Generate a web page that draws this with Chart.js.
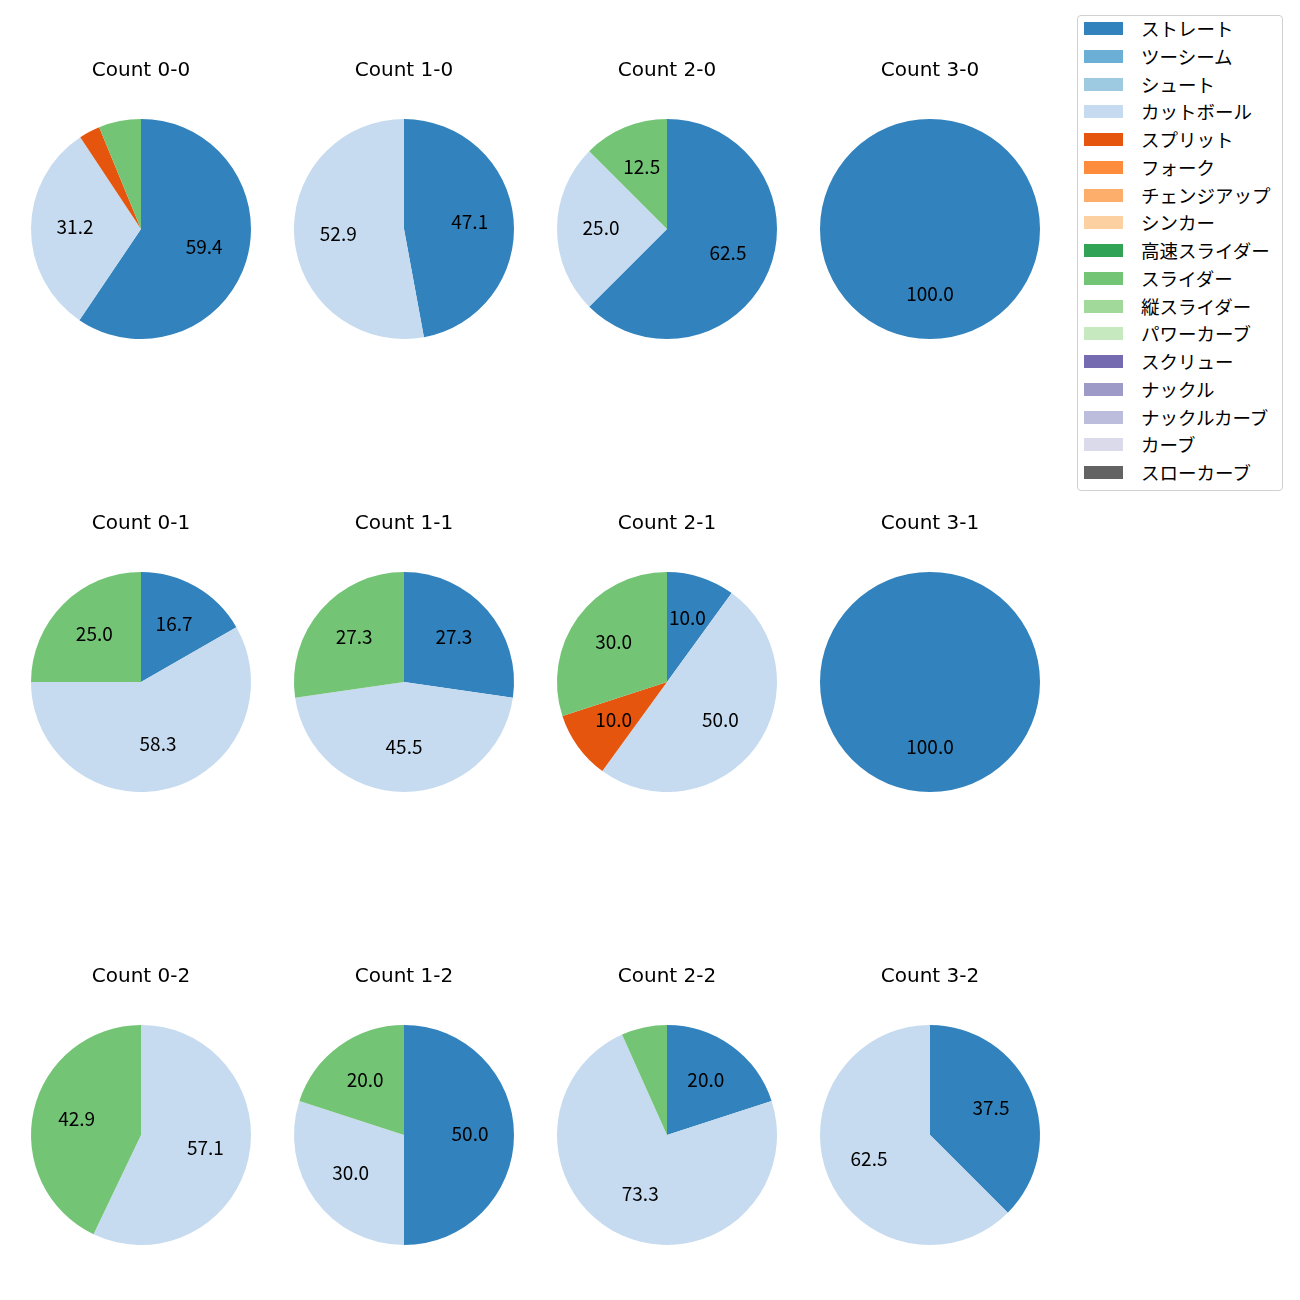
<!DOCTYPE html>
<html>
<head>
<meta charset="utf-8">
<script src="https://cdn.jsdelivr.net/npm/chart.js@4.4.0/dist/chart.umd.min.js"></script>
<style>
  body { margin: 0; background: #fff; font-family: "Noto Sans CJK JP", sans-serif; }
  #wrap { position: relative; width: 1300px; height: 1300px; }
  .pie { position: absolute; }
  #legend {
    position: absolute; left: 1077px; top: 15px; width: 204px; height: 474px;
    border: 1px solid #d0d0d0; border-radius: 4px; background: #fff;
  }
  .item { position: absolute; left: 6px; height: 20px; font-size: 18.5px; color: #000; }
  .item span.sw { position: absolute; left: 0; top: 4px; width: 39px; height: 13px; }
  .item span.tx { position: absolute; left: 57px; top: 0; white-space: nowrap; line-height: 20px; }
</style>
</head>
<body>
<div id="wrap">
  <div id="legend"></div>
</div>
<script>
// カウント別の球種割合 (%)
const counts = ['0-0', '1-0', '2-0', '3-0', '0-1', '1-1', '2-1', '3-1', '0-2', '1-2', '2-2', '3-2'];

const pitchTypes = ['ストレート', 'ツーシーム', 'シュート', 'カットボール', 'スプリット', 'フォーク',
  'チェンジアップ', 'シンカー', '高速スライダー', 'スライダー', '縦スライダー', 'パワーカーブ',
  'スクリュー', 'ナックル', 'ナックルカーブ', 'カーブ', 'スローカーブ'];

const pitchColors = ['#3182bd', '#6baed6', '#9ecae1', '#c6dbef', '#e6550d', '#fd8d3c',
  '#fdae6b', '#fdd0a2', '#31a354', '#74c476', '#a1d99b', '#c7e9c0',
  '#756bb1', '#9e9ac8', '#bcbddc', '#dadaeb', '#636363'];

const straight = [59.4, 47.1, 62.5, 100, 16.7, 27.3, 10.0, 100, 0, 50.0, 20.0, 37.5];
const cutball  = [31.2, 52.9, 25.0, 0, 58.3, 45.5, 50.0, 0, 57.1, 30.0, 73.3, 62.5];
const split    = [3.1, 0, 0, 0, 0, 0, 10.0, 0, 0, 0, 0, 0];
const slider   = [6.2, 0, 12.5, 0, 25.0, 27.3, 30.0, 0, 42.9, 20.0, 6.7, 0];

const seriesByType = {
  'ストレート': straight,
  'カットボール': cutball,
  'スプリット': split,
  'スライダー': slider
};

/*** ======== pie label plugin ======== ***/
const pctLabels = {
  id: 'pctLabels',
  afterDatasetsDraw(chart) {
    const ctx = chart.ctx;
    const meta = chart.getDatasetMeta(0);
    const data = chart.data.datasets[0].data;
    ctx.save();
    ctx.font = '19px "Noto Sans CJK JP", sans-serif';
    ctx.fillStyle = '#000';
    ctx.textAlign = 'center';
    ctx.textBaseline = 'middle';
    meta.data.forEach((arc, i) => {
      const v = data[i];
      if (!v || v < 10) return;
      const p = arc.getProps(['x', 'y', 'startAngle', 'endAngle', 'outerRadius'], true);
      const mid = (p.startAngle + p.endAngle) / 2;
      const r = p.outerRadius * 0.6;
      ctx.fillText(v.toFixed(1), p.x + Math.cos(mid) * r, p.y + Math.sin(mid) * r - 1.5);
    });
    ctx.restore();
  }
};

const colX = [141, 404, 667, 930];
const rowY = [229, 682, 1135];
const wrap = document.getElementById('wrap');

counts.forEach((c, idx) => {
  const col = idx % 4, row = Math.floor(idx / 4);
  const cx = colX[col], cy = rowY[row];
  const canvas = document.createElement('canvas');
  canvas.className = 'pie';
  canvas.width = 262; canvas.height = 299;
  canvas.style.width = '262px'; canvas.style.height = '299px';
  canvas.style.left = (cx - 131) + 'px';
  canvas.style.top = (cy - 110 - 79) + 'px';
  wrap.appendChild(canvas);

  const values = pitchTypes.map(t => seriesByType[t] ? seriesByType[t][idx] : 0);

  new Chart(canvas.getContext('2d'), {
    type: 'pie',
    data: {
      labels: pitchTypes,
      datasets: [{
        data: values,
        backgroundColor: pitchColors,
        borderWidth: 0
      }]
    },
    options: {
      responsive: false,
      animation: false,
      layout: { padding: 0 },
      plugins: {
        legend: { display: false },
        tooltip: { enabled: false },
        title: {
          display: true,
          text: 'Count ' + c,
          color: '#000',
          font: { family: '"DejaVu Sans", sans-serif', size: 20, weight: 'normal', lineHeight: 1.2 },
          padding: { top: 19, bottom: 36 }
        }
      }
    },
    plugins: [pctLabels]
  });
});

/*** ======== legend ======== ***/
const legend = document.getElementById('legend');
pitchTypes.forEach((t, i) => {
  const d = document.createElement('div');
  d.className = 'item';
  d.style.top = (2 + i * 27.75) + 'px';
  const sw = document.createElement('span');
  sw.className = 'sw';
  sw.style.background = pitchColors[i];
  const tx = document.createElement('span');
  tx.className = 'tx';
  tx.textContent = t;
  d.appendChild(sw);
  d.appendChild(tx);
  legend.appendChild(d);
});
</script>
</body>
</html>
